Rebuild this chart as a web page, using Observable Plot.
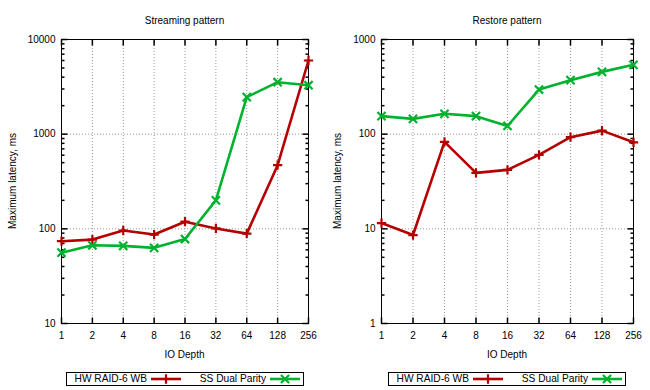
<!DOCTYPE html>
<html><head><meta charset="utf-8">
<script src="https://cdn.jsdelivr.net/npm/d3@7"></script>
<script src="https://cdn.jsdelivr.net/npm/@observablehq/plot@0.6"></script>
<style>
body{margin:0;background:#fff;font-family:"Liberation Sans",Arial,sans-serif;color:#000}
#root{position:relative;width:650px;height:390px;overflow:hidden;background:#fff}
.panel{position:absolute;top:0;width:325px;height:390px}
.panel > svg{position:absolute;left:0;top:0}
.title{position:absolute;top:15px;font-size:10px;line-height:12px;white-space:nowrap;transform:translateX(-50%)}
.xlabel{position:absolute;top:349px;font-size:10px;line-height:12px;white-space:nowrap;transform:translateX(-50%)}
.ylabel{position:absolute;left:13px;font-size:10px;line-height:12px;white-space:nowrap;transform:translate(-50%,-50%) rotate(-90deg)}
.legend{position:absolute;top:372px;height:12px;width:236px;border:1px solid #000;font-size:10.2px}
.legend span{position:absolute;top:0;line-height:12px;white-space:nowrap;transform:translateX(-100%)}
.legend svg{position:absolute;top:-1px}
</style>
</head><body>
<div id="root"></div>
<script>
// ---- data ----
const depths = [1, 2, 4, 8, 16, 32, 64, 128, 256];
const seriesNames = ["HW RAID-6 WB", "SS Dual Parity"];
const seriesColors = ["#b40000", "#00b22d"];
const seriesSymbols = ["plus", "times"];
const streamHW = [74, 77, 96, 87, 119, 101, 89, 470, 6000];
const streamSS = [56, 67, 66, 63, 78, 200, 2460, 3540, 3290];
const restoreHW = [11.5, 8.6, 83, 39, 42, 60.5, 93, 109, 82];
const restoreSS = [155, 145, 164, 155, 122, 296, 372, 455, 540];
const streamTicksY = [10, 100, 1000, 10000];
const restoreTicksY = [1, 10, 100, 1000];
const titles = ["Streaming pattern", "Restore pattern"];
const xLabel = "IO Depth";
const yLabel = "Maximum latency, ms";

const FONT = '"Liberation Sans", Arial, sans-serif';
const symbolR = [3.1, 3.8];
function tickSym(dx, dy) {
  return {draw(ctx) { ctx.moveTo(0, 0); ctx.lineTo(dx, dy); }};
}
const tR6 = tickSym(6, 0), tR3 = tickSym(3, 0), tL6 = tickSym(-6, 0), tL3 = tickSym(-3, 0);
const tU6 = tickSym(0, -6), tD6 = tickSym(0, 6);

function panel(left, ml, title, yTicks, hw, ss, legendLeft) {
  const W = 325, H = 365, mt = 39, mb = 42, mr = 17;
  const div = document.createElement("div");
  div.className = "panel";
  div.style.left = left + "px";
  document.getElementById("root").appendChild(div);

  const rows = [];
  depths.forEach((d, i) => rows.push({depth: d, value: hw[i], s: 0}));
  depths.forEach((d, i) => rows.push({depth: d, value: ss[i], s: 1}));

  const yDom = [yTicks[0], yTicks[yTicks.length - 1]];
  const xDom = [depths[0], depths[depths.length - 1]];
  const minor = [];
  for (let k = 0; k < yTicks.length - 1; k++) for (let m = 2; m <= 9; m++) minor.push(yTicks[k] * m);
  const innerX = depths.slice(1, -1);
  const innerY = yTicks.slice(1, -1);

  const marks = [
    Plot.gridX(innerX, {stroke: "#999", strokeOpacity: 1, strokeDasharray: "1,2"}),
    Plot.gridY(innerY, {stroke: "#999", strokeOpacity: 1, strokeDasharray: "1,2"}),
    Plot.frame({stroke: "#000", strokeWidth: 1}),
    Plot.axisX(depths, {tickSize: 0, tickPadding: 8, tickFormat: d => String(d), label: null}),
    Plot.axisY(yTicks, {tickSize: 0, tickPadding: 6, tickFormat: d => String(d), label: null}),
    // inside ticks
    Plot.dot(yTicks, {x: () => xDom[0], y: d => d, symbol: tR6, fill: "none", stroke: "#000"}),
    Plot.dot(minor, {x: () => xDom[0], y: d => d, symbol: tR3, fill: "none", stroke: "#000"}),
    Plot.dot(yTicks, {x: () => xDom[1], y: d => d, symbol: tL6, fill: "none", stroke: "#000"}),
    Plot.dot(minor, {x: () => xDom[1], y: d => d, symbol: tL3, fill: "none", stroke: "#000"}),
    Plot.dot(depths, {x: d => d, y: () => yDom[0], symbol: tU6, fill: "none", stroke: "#000"}),
    Plot.dot(depths, {x: d => d, y: () => yDom[1], symbol: tD6, fill: "none", stroke: "#000"})
  ];
  [0, 1].forEach(s => {
    const data = rows.filter(r => r.s === s);
    marks.push(Plot.line(data, {x: "depth", y: "value", stroke: seriesColors[s], strokeWidth: 2.6}));
    marks.push(Plot.dot(data, {x: "depth", y: "value", symbol: seriesSymbols[s], r: symbolR[s], stroke: seriesColors[s], strokeWidth: 2.2, fill: "none"}));
  });

  const chart = Plot.plot({
    width: W, height: H,
    marginTop: mt, marginBottom: mb, marginLeft: ml, marginRight: mr,
    style: {fontFamily: FONT, fontSize: "10px", background: "white", overflow: "visible"},
    x: {type: "log", base: 2, domain: xDom},
    y: {type: "log", domain: yDom},
    marks
  });
  div.appendChild(chart);

  const cx = ml + (W - ml - mr) / 2;
  const t = document.createElement("div");
  t.className = "title"; t.textContent = title; t.style.left = cx + "px";
  div.appendChild(t);
  const xl = document.createElement("div");
  xl.className = "xlabel"; xl.textContent = xLabel; xl.style.left = cx + "px";
  div.appendChild(xl);
  const yl = document.createElement("div");
  yl.className = "ylabel"; yl.textContent = yLabel; yl.style.top = ((mt + H - mb) / 2) + "px";
  div.appendChild(yl);

  // legend
  const lg = document.createElement("div");
  lg.className = "legend"; lg.style.left = legendLeft + "px";
  div.appendChild(lg);
  const sampleX = [84, 203];
  seriesNames.forEach((name, s) => {
    const sp = document.createElement("span");
    sp.textContent = name; sp.style.left = (sampleX[s] - 4) + "px";
    lg.appendChild(sp);
    const svg = d3.create("svg").attr("width", 30).attr("height", 14).style("left", sampleX[s] + "px");
    svg.append("line").attr("x1", 0).attr("x2", 30).attr("y1", 7).attr("y2", 7)
      .attr("stroke", seriesColors[s]).attr("stroke-width", 2.6);
    const sym = s === 0 ? d3.symbolPlus : d3.symbolTimes;
    svg.append("path").attr("transform", "translate(15,7)")
      .attr("d", d3.symbol(sym, symbolR[s] * symbolR[s] * Math.PI)())
      .attr("stroke", seriesColors[s]).attr("stroke-width", 2.2).attr("fill", "none");
    lg.appendChild(svg.node());
  });
}

panel(0, 61, titles[0], streamTicksY, streamHW, streamSS, 66);
panel(325, 56, titles[1], restoreTicksY, restoreHW, restoreSS, 63);
</script>
</body></html>
